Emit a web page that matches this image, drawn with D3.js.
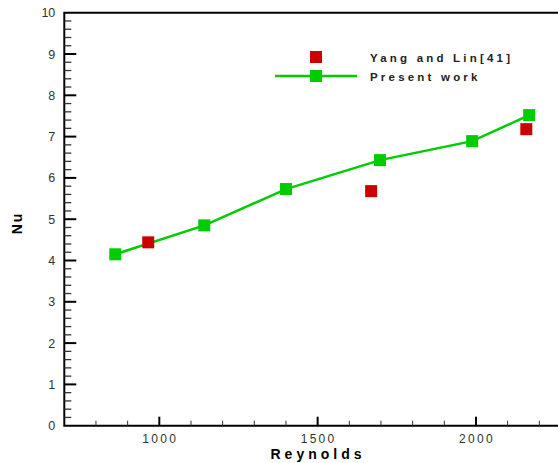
<!DOCTYPE html>
<html>
<head>
<meta charset="utf-8">
<script src="https://cdn.jsdelivr.net/npm/d3@7"></script>
<style>
  body { margin: 0; background: #fff; }
  svg { display: block; font-family: "Liberation Sans", Arial, sans-serif; }
</style>
</head>
<body>
<div id="chart"></div>
<script>
// present work (green line + squares)
const presentRe = [861, 1142, 1400, 1697, 1988, 2168];
const presentNu = [4.15, 4.85, 5.73, 6.43, 6.89, 7.52];
// Yang and Lin [41] (red squares)
const yangRe = [965, 1669, 2159];
const yangNu = [4.44, 5.68, 7.18];
const xTicks = [1000, 1500, 2000];
const yTicks = [0, 1, 2, 3, 4, 5, 6, 7, 8, 9, 10];

const width = 558, height = 463;
const margins = {top: 12.7, left: 64.3, bottom: 37.3};

const svg = d3.select("#chart").append("svg").attr("width", width).attr("height", height);

const xScale = d3.scaleLinear().domain([700, 2300]).range([margins.left, margins.left + 1600 * 0.31667]);
const yScale = d3.scaleLinear().domain([0, 10]).range([height - margins.bottom, margins.top]);

const x0 = xScale(700), y0 = yScale(0), yTop = yScale(10), xEnd = xScale(2300);

// frame
svg.append("path")
  .attr("d", `M${x0},${y0}L${x0},${yTop}L${xEnd},${yTop}L${xEnd},${y0}Z`)
  .attr("fill", "none").attr("stroke", "#000").attr("stroke-width", 2);

// y minor ticks
const yMinor = d3.range(0, 10.001, 0.2).filter(v => Math.abs(v - Math.round(v)) > 0.01);
svg.append("g").selectAll("line").data(yMinor).enter().append("line")
  .attr("x1", x0).attr("x2", x0 + 7)
  .attr("y1", d => yScale(d)).attr("y2", d => yScale(d))
  .attr("stroke", "#333").attr("stroke-width", 1.3);
svg.append("g").selectAll("line").data(yTicks.slice(1, -1)).enter().append("line")
  .attr("x1", x0).attr("x2", x0 + 12)
  .attr("y1", d => yScale(d)).attr("y2", d => yScale(d))
  .attr("stroke", "#000").attr("stroke-width", 2);
svg.append("g").selectAll("text").data(yTicks).enter().append("text")
  .attr("x", x0 - 9).attr("y", d => yScale(d) + 4.5)
  .attr("text-anchor", "end").attr("font-size", 12.5).attr("fill", "#333")
  .text(d => d);

// x ticks
const xMinor = d3.range(800, 2300, 100).filter(v => v % 500 !== 0);
svg.append("g").selectAll("line").data(xMinor).enter().append("line")
  .attr("x1", d => xScale(d)).attr("x2", d => xScale(d))
  .attr("y1", y0).attr("y2", y0 - 5)
  .attr("stroke", "#333").attr("stroke-width", 1);
svg.append("g").selectAll("line").data(xTicks).enter().append("line")
  .attr("x1", d => xScale(d)).attr("x2", d => xScale(d))
  .attr("y1", y0).attr("y2", y0 - 9)
  .attr("stroke", "#000").attr("stroke-width", 2);
svg.append("g").selectAll("text").data(xTicks).enter().append("text")
  .attr("x", d => xScale(d) + 1).attr("y", y0 + 17)
  .attr("text-anchor", "middle").attr("font-size", 12).attr("fill", "#333")
  .attr("letter-spacing", 2.3)
  .text(d => d);

// axis titles
svg.append("text")
  .attr("x", 318).attr("y", 459)
  .attr("text-anchor", "middle").attr("font-size", 14).attr("font-weight", "bold")
  .attr("letter-spacing", 4)
  .text("Reynolds");
svg.append("text")
  .attr("transform", "translate(22,223) rotate(-90)")
  .attr("text-anchor", "middle").attr("font-size", 14).attr("font-weight", "bold")
  .attr("letter-spacing", 2)
  .text("Nu");

// present work line
const line = d3.line().x(d => xScale(d[0])).y(d => yScale(d[1]));
const present = presentRe.map((r, i) => [r, presentNu[i]]);
svg.append("path").datum(present)
  .attr("d", line).attr("fill", "none")
  .attr("stroke", "#00cc00").attr("stroke-width", 2.5);

const s = 12;
svg.append("g").selectAll("rect").data(yangRe.map((r, i) => [r, yangNu[i]])).enter().append("rect")
  .attr("x", d => xScale(d[0]) - s / 2).attr("y", d => yScale(d[1]) - s / 2)
  .attr("width", s).attr("height", s).attr("fill", "#cc0000");
svg.append("g").selectAll("rect").data(present).enter().append("rect")
  .attr("x", d => xScale(d[0]) - s / 2).attr("y", d => yScale(d[1]) - s / 2)
  .attr("width", s).attr("height", s).attr("fill", "#00cc00");

// legend
const lg = svg.append("g");
lg.append("rect").attr("x", 310).attr("y", 51).attr("width", 12).attr("height", 12).attr("fill", "#cc0000");
lg.append("line").attr("x1", 275).attr("x2", 357).attr("y1", 76).attr("y2", 76)
  .attr("stroke", "#00cc00").attr("stroke-width", 2.5);
lg.append("rect").attr("x", 310).attr("y", 70).attr("width", 12).attr("height", 12).attr("fill", "#00cc00");
lg.append("text").attr("x", 370).attr("y", 62)
  .attr("font-size", 11.5).attr("font-weight", "bold").attr("letter-spacing", 3.2).attr("fill", "#222")
  .text("Yang and Lin[41]");
lg.append("text").attr("x", 370).attr("y", 81)
  .attr("font-size", 11.5).attr("font-weight", "bold").attr("letter-spacing", 3.2).attr("fill", "#222")
  .text("Present work");
</script>
</body>
</html>
